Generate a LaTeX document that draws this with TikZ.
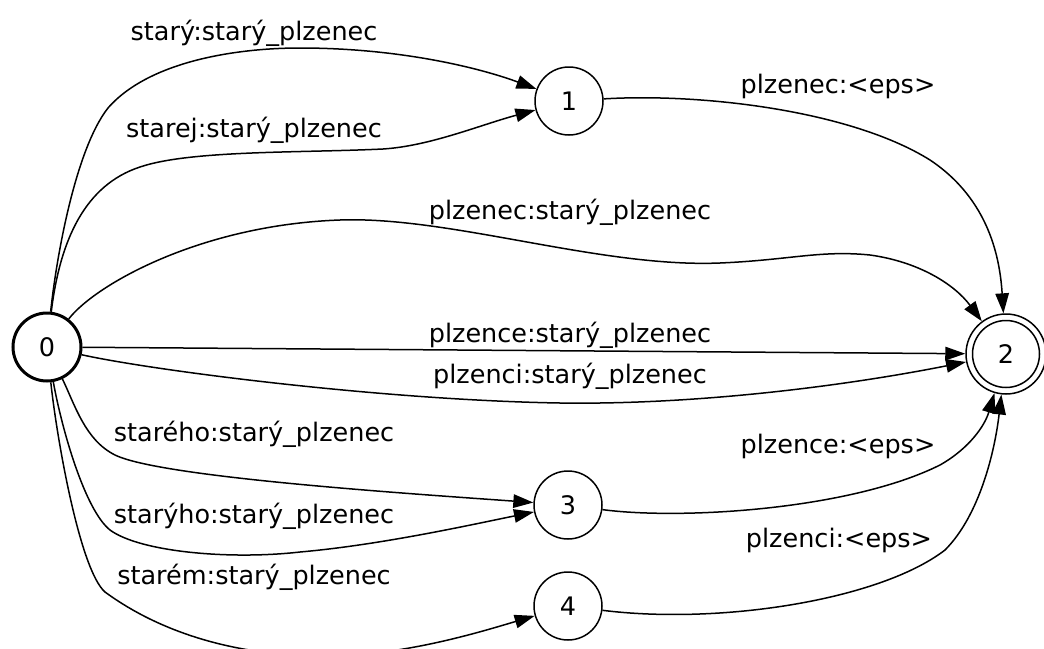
\documentclass[tikz,border=0pt]{standalone}
\usepackage{fontspec}
\setmainfont{DejaVu Sans}
\usetikzlibrary{arrows.meta}
\begin{document}
\begin{tikzpicture}[x=1pt,y=-1pt,
  txt/.style={font=\fontsize{25.5}{30}\selectfont},
  state/.style={circle, draw, line width=1.5pt, minimum size=68pt, inner sep=0pt, txt},
  startstate/.style={state, line width=3pt},
  finalstate/.style={state, minimum size=80pt},
  lbl/.style={anchor=base, inner sep=0pt, txt},
  tr/.style={line width=1.5pt, -{Triangle[length=20pt,width=13.5pt]}}
]
\useasboundingbox (0,0) rectangle (1044,648);
\clip (0,0) rectangle (1044,648);

% states
\node[startstate] (n0) at (47,347) {0};
\node[state] (n1) at (569,101) {1};
\node[finalstate] (n2) at (1006,354) {2};
\draw[line width=1.5pt] (n2.center) circle[radius=33.5pt];
\node[state] (n3) at (568,505) {3};
\node[state] (n4) at (568,606) {4};

% transitions out of state 0
\draw[tr] (n0) .. controls (56,260) and (75,150) .. (108,108)
  .. controls (150,60) and (240,48) .. (300,48)
  .. controls (400,48) and (480,68) .. (n1);
\draw[tr] (n0) .. controls (60,240) and (85,185) .. (140,167)
  .. controls (190,150) and (300,153) .. (383,149)
  .. controls (430,146) and (480,125) .. (n1);
\draw[tr] (n0) .. controls (95,285) and (200,225) .. (340,220)
  .. controls (450,216) and (600,268) .. (720,263)
  .. controls (790,260) and (820,250) .. (870,255)
  .. controls (920,262) and (955,285) .. (n2);
\draw[tr] (n0) -- (n2);
\draw[tr] (n0) .. controls (150,370) and (380,400) .. (560,403)
  .. controls (700,405) and (850,385) .. (n2);
\draw[tr] (n0) .. controls (75,405) and (85,440) .. (115,455)
  .. controls (160,477) and (400,493) .. (n3);
\draw[tr] (n0) .. controls (62,430) and (85,510) .. (110,530)
  .. controls (140,552) and (230,560) .. (300,552)
  .. controls (380,545) and (470,525) .. (n3);
\draw[tr] (n0) .. controls (57,440) and (80,570) .. (105,592)
  .. controls (150,625) and (220,655) .. (320,656)
  .. controls (400,657) and (480,632) .. (n4);

% transitions into the final state
\draw[tr] (n1) .. controls (700,93) and (850,110) .. (930,160)
  .. controls (990,200) and (1000,260) .. (n2);
\draw[tr] (n3) .. controls (680,520) and (850,510) .. (940,465)
  .. controls (970,448) and (985,425) .. (n2);
\draw[tr] (n4) .. controls (720,625) and (880,600) .. (945,550)
  .. controls (980,515) and (995,450) .. (n2);

% transition labels
\node[lbl] (l1) at (254,40) {starý:starý\_plzenec};
\node[lbl] (l2) at (254,137) {starej:starý\_plzenec};
\node[lbl] (l3) at (570,219) {plzenec:starý\_plzenec};
\node[lbl] (l4) at (570,342) {plzence:starý\_plzenec};
\node[lbl] (l5) at (570,383) {plzenci:starý\_plzenec};
\node[lbl] (l6) at (254,441) {starého:starý\_plzenec};
\node[lbl] (l7) at (254,523) {starýho:starý\_plzenec};
\node[lbl] (l8) at (254,584) {starém:starý\_plzenec};
\node[lbl] (l9) at (838,93) {plzenec:<eps>};
\node[lbl] (l10) at (838,453) {plzence:<eps>};
\node[lbl] (l11) at (839,547) {plzenci:<eps>};
\end{tikzpicture}
\end{document}
